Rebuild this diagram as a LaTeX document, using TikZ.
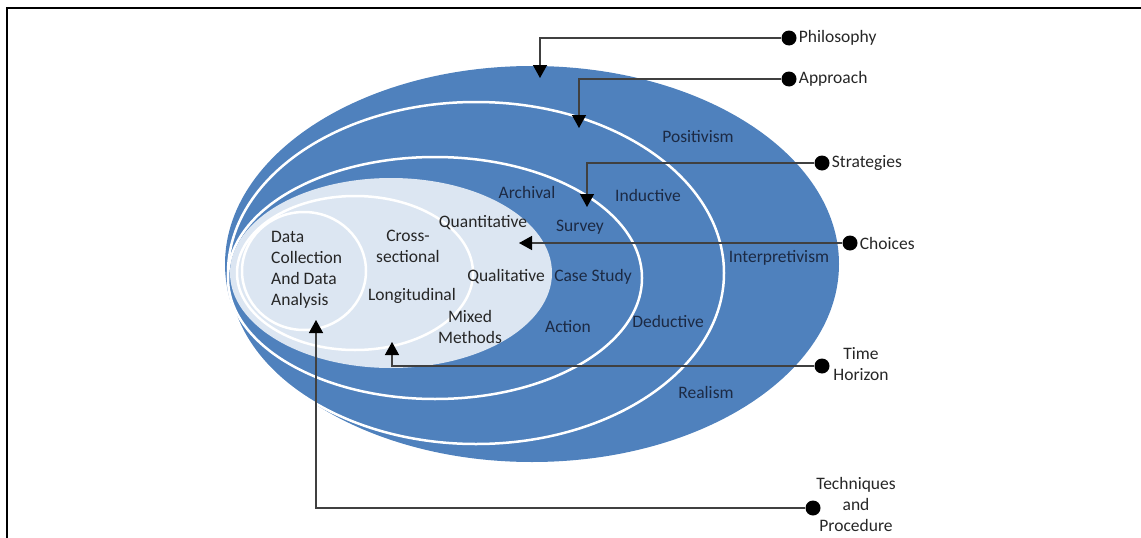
\documentclass[tikz,border=0pt]{standalone}
\usepackage{fontspec}
\setmainfont{Carlito}
\usepackage{tikz}
\usetikzlibrary{positioning,arrows.meta}
\definecolor{onion}{HTML}{4F81BD}
\definecolor{core}{HTML}{DCE6F2}
\definecolor{ink}{HTML}{1C2A44}
\tikzstyle{hub}=[circle, fill=black, inner sep=0pt, minimum size=15pt]
\tikzstyle{tag}=[inner sep=1pt, text=black!85, align=center]
\tikzstyle{lbl}=[inner sep=1pt, text=ink, align=center]
\tikzstyle{link}=[draw=black!75, line width=1.4pt, -{Triangle[width=14pt,length=13pt,black]}]
\tikzstyle{ring}=[fill=onion, draw=white, line width=2.5pt]
\newcommand{\hub}{\node[hub]}

\begin{document}
\begin{tikzpicture}[x=1pt, y=-1pt, font=\fontsize{17.5}{21}\selectfont]
	\useasboundingbox (0,0) rectangle (1141,538);
	%% frame: only the top and left edges are there
	\draw[line width=2.5pt] (1141,8) -- (7,8) -- (7,538);

	%% the layers, outside in; all of them touch on the left
	\fill[onion] (532,264) ellipse [x radius=307, y radius=198];
	\path[ring] (476,273) ellipse [x radius=248, y radius=171];
	\path[ring] (435,278) ellipse [x radius=207, y radius=121];
	\fill[core] (391,273) ellipse [x radius=161, y radius=95];
	\draw[white, line width=2.5pt] (355,273) ellipse [x radius=118, y radius=77];
	\draw[white, line width=2.5pt] (304,271) ellipse [x radius=62, y radius=59];

	%% labels in the rings
	\node[lbl] (pos) at (698,137) {Positivism};
	\node[lbl] (int) at (779,258) {Interpretivism};
	\node[lbl] (rea) at (706,392) {Realism};
	\node[lbl] (ind) at (648,195) {Inductive};
	\node[lbl] (ded) at (668,321) {Deductive};
	\node[lbl] (arc) at (527,192) {Archival};
	\node[lbl] (sur) at (580,227) {Survey};
	\node[lbl] (cas) at (593,277) {Case Study};
	\node[lbl] (act) at (568,327) {Action};
	\node[tag] (qnt) at (483,223) {Quantitative};
	\node[tag] (qlt) at (506,277) {Qualitative};
	\node[tag] (mix) at (470,327) {Mixed\\Methods};
	\node[tag] (crs) at (408,246) {Cross-\\sectional};
	\node[tag] (lng) at (412,296) {Longitudinal};
	\node[tag, align=left, anchor=west] (dat) at (270,270) {Data\\Collection\\And Data\\Analysis};

	%% markers on the right, each with its name
	\hub (philo) at (789,38) {};
	\hub (appr) at (789,79) {};
	\hub (strat) at (822,163) {};
	\hub (choi) at (850,243) {};
	\hub (time) at (822,366) {};
	\hub (tech) at (813,508) {};
	\node[tag, right=1pt of philo] (philot) {Philosophy};
	\node[tag, right=1pt of appr] (apprt) {Approach};
	\node[tag, right=1pt of strat] (stratt) {Strategies};
	\node[tag, right=1pt of choi] (choit) {Choices};
	\node[tag] (timet) at (861,364) {Time\\Horizon};
	\node[tag] (techt) at (856,504) {Techniques\\and\\Procedure};

	%% where the arrows land
	\coordinate (philo-in) at (540,78);
	\coordinate (appr-in) at (579,128);
	\coordinate (strat-in) at (587,207);
	\coordinate (choi-in) at (519,243);
	\coordinate (time-in) at (392,342);
	\coordinate (tech-in) at (316,320);

	\draw[link] (philo) -| (philo-in);
	\draw[link] (appr) -| (appr-in);
	\draw[link] (strat) -| (strat-in);
	\draw[link] (choi) -- (choi-in);
	\draw[link] (time) -| (time-in);
	\draw[link] (tech) -| (tech-in);
\end{tikzpicture}
\end{document}
